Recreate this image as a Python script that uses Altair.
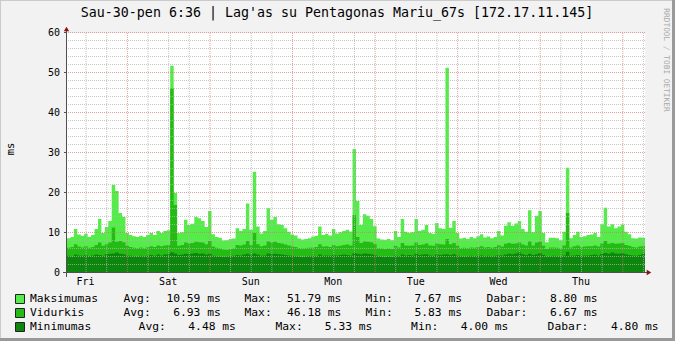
import altair as alt
import pandas as pd

TITLE = "Sau-30-pen 6:36 | Lag'as su Pentagonas Mariu_67s [172.17.11.145]"
Y_LABEL = "ms"
WATERMARK = "RRDTOOL / TOBI OETIKER"
DAYS = ["Fri", "Sat", "Sun", "Mon", "Tue", "Wed", "Thu"]
START_HOUR = 6.6          # graph starts at 06:36
HOURS = 168               # one week, hourly steps
Y_TICKS = [0, 10, 20, 30, 40, 50, 60]

MAX_MS = [
    8.7, 9.0, 11.0, 9.6, 9.3, 9.8, 9.0, 9.5, 11.0, 13.5, 10.0, 11.5,
    13.0, 22.0, 20.5, 15.0, 14.0, 10.0, 9.5, 9.2, 9.0, 9.3, 9.0, 9.5,
    10.0, 9.5, 10.5, 10.0, 10.5, 10.7, 51.79, 20.0, 10.0, 10.2, 13.3, 12.0,
    12.3, 14.0, 13.7, 13.0, 11.5, 15.5, 9.7, 9.0, 8.8, 8.1, 8.2, 8.5,
    8.6, 11.2, 10.5, 11.0, 17.4, 10.8, 25.3, 11.6, 9.9, 10.5, 16.2, 13.3,
    14.0, 12.2, 12.0, 11.2, 10.3, 9.6, 9.4, 8.6, 8.4, 8.5, 8.7, 9.1,
    9.3, 11.6, 9.5, 9.8, 9.4, 11.0, 9.9, 10.2, 10.5, 10.8, 10.4, 31.0,
    18.0, 12.0, 14.7, 14.3, 13.5, 11.7, 8.6, 8.4, 8.3, 8.5, 8.2, 10.5,
    9.0, 13.5, 10.3, 10.0, 10.2, 13.5, 10.5, 10.8, 12.0, 10.0, 9.8, 12.5,
    11.2, 11.0, 51.3, 11.3, 13.0, 10.0, 8.6, 8.8, 8.5, 9.0, 8.7, 9.2,
    9.7, 8.9, 9.1, 8.7, 9.0, 10.5, 9.4, 11.8, 12.7, 11.8, 12.4, 13.0,
    11.0, 10.3, 15.7, 10.2, 14.3, 15.5, 10.0, 7.67, 8.8, 8.8, 8.7, 8.2,
    10.3, 26.3, 8.7, 9.5, 10.3, 9.0, 9.2, 9.5, 9.6, 10.0, 9.0, 12.2,
    16.3, 11.6, 12.2, 11.2, 11.6, 12.1, 10.3, 9.7, 8.7, 8.6, 8.9, 8.8,
]
AVG_MS = [
    6.3, 6.5, 7.2, 6.6, 6.4, 6.7, 6.3, 6.5, 7.0, 7.6, 6.8, 7.2,
    7.6, 11.4, 7.8, 8.0, 7.7, 6.8, 6.5, 6.3, 6.2, 6.4, 6.2, 6.5,
    6.7, 6.5, 6.9, 6.7, 6.9, 7.0, 46.18, 17.0, 6.8, 7.0, 7.6, 7.4,
    7.5, 7.8, 7.7, 7.6, 7.2, 8.0, 6.6, 6.3, 6.1, 5.9, 5.83, 6.0,
    6.1, 7.0, 6.9, 7.1, 8.0, 7.0, 10.0, 7.2, 6.7, 6.9, 7.9, 7.6,
    7.8, 7.5, 7.4, 7.1, 6.9, 6.6, 6.5, 6.2, 6.1, 6.2, 6.3, 6.4,
    6.5, 7.2, 6.6, 6.7, 6.5, 7.0, 6.7, 6.8, 7.0, 7.1, 6.9, 14.5,
    9.0, 7.5, 7.9, 7.8, 7.7, 7.2, 6.2, 6.1, 6.0, 6.1, 6.0, 6.8,
    6.4, 7.5, 6.9, 6.8, 6.9, 7.6, 7.0, 7.1, 7.4, 6.9, 6.8, 7.4,
    7.2, 7.1, 8.5, 7.2, 7.5, 6.8, 6.2, 6.3, 6.2, 6.4, 6.3, 6.5,
    6.7, 6.4, 6.5, 6.3, 6.5, 7.0, 6.6, 7.3, 7.5, 7.3, 7.4, 7.6,
    7.1, 6.9, 7.9, 6.9, 7.6, 7.8, 6.8, 6.0, 6.4, 6.4, 6.3, 6.1,
    6.9, 15.0, 6.4, 6.7, 6.9, 6.5, 6.6, 6.7, 6.7, 6.9, 6.6, 7.4,
    8.0, 7.3, 7.5, 7.3, 7.4, 7.5, 7.0, 6.8, 6.5, 6.4, 6.6, 6.67,
]
MIN_MS = [
    4.3, 4.1, 4.6, 4.4, 4.3, 4.5, 4.2, 4.4, 4.6, 4.5, 4.3, 4.7,
    4.8, 4.9, 5.1, 4.8, 4.7, 4.4, 4.3, 4.2, 4.1, 4.3, 4.2, 4.4,
    4.5, 4.3, 4.6, 4.4, 4.6, 4.7, 5.2, 4.9, 4.5, 4.6, 4.8, 4.7,
    4.9, 5.0, 4.8, 4.9, 4.6, 4.8, 4.3, 4.2, 4.1, 4.0, 4.1, 4.2,
    4.3, 4.5, 4.4, 4.6, 4.8, 4.5, 4.9, 4.6, 4.3, 4.4, 4.9, 4.7,
    4.8, 4.7, 4.6, 4.5, 4.4, 4.3, 4.2, 4.1, 4.0, 4.1, 4.2, 4.3,
    4.2, 4.6, 4.3, 4.4, 4.3, 4.5, 4.4, 4.5, 4.6, 4.5, 4.4, 5.0,
    4.8, 4.7, 4.9, 4.8, 4.7, 4.5, 4.2, 4.1, 4.0, 4.1, 4.0, 4.4,
    4.2, 4.6, 4.4, 4.5, 4.4, 4.8, 4.5, 4.6, 4.7, 4.4, 4.3, 4.6,
    4.5, 4.6, 4.7, 4.5, 4.7, 4.4, 4.2, 4.1, 4.2, 4.3, 4.2, 4.3,
    4.4, 4.2, 4.3, 4.2, 4.3, 4.5, 4.4, 4.6, 4.8, 4.7, 4.9, 5.1,
    4.7, 4.5, 4.8, 4.5, 4.7, 5.0, 4.5, 4.1, 4.2, 4.3, 4.2, 4.1,
    4.4, 5.33, 4.3, 4.4, 4.5, 4.3, 4.4, 4.4, 4.5, 4.6, 4.4, 4.8,
    5.0, 4.8, 5.1, 4.9, 4.8, 5.0, 4.7, 4.5, 4.4, 4.3, 4.5, 4.80,
]

SERIES = ["Maksimumas", "Vidurkis", "Minimumas"]
COLORS = ["#54EC48", "#24BC14", "#0C860C"]
STAT_LABELS = ["Avg:", "Max:", "Min:", "Dabar:"]
STATS = [
    ["10.59 ms", "51.79 ms", "7.67 ms", "8.80 ms"],
    ["6.93 ms", "46.18 ms", "5.83 ms", "6.67 ms"],
    ["4.48 ms", "5.33 ms", "4.00 ms", "4.80 ms"],
]

# ---------------- layout ----------------
FONT = "DejaVu Sans Mono"
W, H = 675, 341
PL, PT, PW, PH = 67, 33, 578, 240
BG = "#F2F2F2"
AXIS_C = "#505050"
ARROW_C = "#8B1010"


def rx(x):
    return x - PL


def ry(y):
    return y - PT


# data table (extra closing point so the last step is drawn)
df = pd.DataFrame({
    "h": list(range(HOURS + 1)),
    "mx": MAX_MS + MAX_MS[-1:],
    "av": AVG_MS + AVG_MS[-1:],
    "mn": MIN_MS + MIN_MS[-1:],
})

xscale = alt.Scale(domain=[0, HOURS], nice=False, zero=False)
yscale = alt.Scale(domain=[0, 60], nice=False)

noon = [12 - START_HOUR + 24 * i for i in range(7)]
midnight = [24 - START_HOUR + 24 * i for i in range(7)]
six_h = [6 * k - START_HOUR for k in range(1, 30) if 0 < 6 * k - START_HOUR < HOURS]
minor_v = [v for v in six_h if all(abs(v - m) > 0.01 for m in midnight)]
minor_h = [v for v in range(2, 60, 2) if v % 10 != 0]
major_h = [10, 20, 30, 40, 50, 60]


def X(f):
    return alt.X(f, scale=xscale, axis=None)


def Y(f):
    return alt.Y(f, scale=yscale, axis=None)


base = alt.Chart(df)
area_max = base.mark_area(interpolate="step-after", color=COLORS[0]).encode(x=X("h:Q"), y=Y("mx:Q"))
area_avg = base.mark_area(interpolate="step-after", color=COLORS[1]).encode(x=X("h:Q"), y=Y("av:Q"))
area_min = base.mark_area(interpolate="step-after", color=COLORS[2]).encode(x=X("h:Q"), y=Y("mn:Q"))


def vrules(vals, color, op):
    return alt.Chart(pd.DataFrame({"gv": vals})).mark_rule(
        color=color, opacity=op, strokeDash=[1, 1], strokeWidth=1, xOffset=0.5).encode(x=X("gv:Q"))


def hrules(vals, color, op):
    return alt.Chart(pd.DataFrame({"gh": vals})).mark_rule(
        color=color, opacity=op, strokeDash=[1, 1], strokeWidth=1, yOffset=-0.5).encode(y=Y("gh:Q"))


grid = [
    vrules(minor_v, "#B4B4B4", 0.75),
    hrules(minor_h, "#B4B4B4", 0.75),
    vrules(midnight, "#D27878", 0.7),
    hrules(major_h, "#D27878", 0.7),
]

# axis labels and ticks drawn through the scales
ydf = pd.DataFrame({"yv": Y_TICKS, "yl": [str(v) for v in Y_TICKS]})
xdf = pd.DataFrame({"xv": noon, "xl": DAYS})
axis_marks = [
    alt.Chart(ydf).mark_text(align="right", baseline="middle", font=FONT, fontSize=10, color="black").encode(
        y=Y("yv:Q"), x=alt.value(-7), text="yl:N"),
    alt.Chart(ydf).mark_rule(color=AXIS_C, strokeWidth=1, yOffset=-0.5).encode(
        y=Y("yv:Q"), x=alt.value(-3), x2=alt.value(0)),
    alt.Chart(xdf).mark_text(align="center", baseline="middle", font=FONT, fontSize=10, color="black").encode(
        x=X("xv:Q"), y=alt.value(ry(281.5)), text="xl:N"),
]

one = pd.DataFrame({"k": [0]})


def rule(x, x2, y, y2, color, sw=1):
    return alt.Chart(one).mark_rule(color=color, strokeWidth=sw).encode(
        x=alt.value(x), x2=alt.value(x2), y=alt.value(y), y2=alt.value(y2))


def txt(s, x, y, align="left", size=11.3, angle=0, color="black", baseline="middle"):
    return alt.Chart(pd.DataFrame({"t": [s]})).mark_text(
        align=align, baseline=baseline, font=FONT, fontSize=size, angle=angle,
        color=color).encode(text="t:N", x=alt.value(rx(x)), y=alt.value(ry(y)))


decor = [
    # axes lines
    rule(rx(66.5), rx(66.5), ry(29), ry(277), AXIS_C),
    rule(rx(63), rx(648), ry(272.5), ry(272.5), AXIS_C),
    # arrows
    alt.Chart(one).mark_point(shape="triangle-up", filled=True, size=28, color=ARROW_C, opacity=1).encode(
        x=alt.value(rx(66.5)), y=alt.value(ry(29))),
    alt.Chart(one).mark_point(shape="triangle-right", filled=True, size=28, color=ARROW_C, opacity=1).encode(
        x=alt.value(rx(649)), y=alt.value(ry(272.5))),
    # frame
    rule(rx(0.5), rx(0.5), ry(0), ry(H), "#CBCBCB", 1),
    rule(rx(0), rx(W), ry(0.5), ry(0.5), "#CBCBCB", 1),
    rule(rx(673.5), rx(673.5), ry(0), ry(H), "#999999", 3),
    rule(rx(0), rx(W), ry(339.5), ry(339.5), "#999999", 3),
    # title, y label, watermark
    txt(TITLE, 337, 13, align="center", size=13.3),
    txt(Y_LABEL, 11, 149, align="center", size=10.5, angle=270),
    txt(WATERMARK, 666, 60, align="center", size=7.8, angle=90, color="#A8A8A8"),
]

# legend
row_y = [299, 313, 327]
col_layout = [
    (123.5, 220.8, 244.5, 341.4, 365.5, 462.0, 486.4, 597.5),
    (123.5, 220.8, 244.5, 341.4, 365.5, 462.0, 486.4, 597.5),
    (138.6, 235.9, 275.5, 372.4, 411.1, 508.4, 547.6, 658.6),
]
legend = []
for i, name in enumerate(SERIES):
    y = row_y[i]
    legend.append(alt.Chart(one).mark_rect(color=COLORS[i], stroke="#222222", strokeWidth=1).encode(
        x=alt.value(rx(15.5)), x2=alt.value(rx(24.5)), y=alt.value(ry(y - 4.5)), y2=alt.value(ry(y + 4.5))))
    legend.append(txt(name, 30, y))
    c = col_layout[i]
    for j in range(4):
        legend.append(txt(STAT_LABELS[j], c[2 * j], y))
        legend.append(txt(STATS[i][j], c[2 * j + 1], y, align="right"))

chart = alt.layer(area_max, area_avg, area_min, *grid, *axis_marks, *decor, *legend).properties(
    width=PW, height=PH,
    padding={"left": PL, "top": PT, "right": W - PL - PW, "bottom": H - PT - PH},
    autosize=alt.AutoSizeParams(type="none"),
    background=BG,
).configure_view(fill="white", stroke=None)

chart.save("out.html", embed_options={"renderer": "svg", "actions": False})
